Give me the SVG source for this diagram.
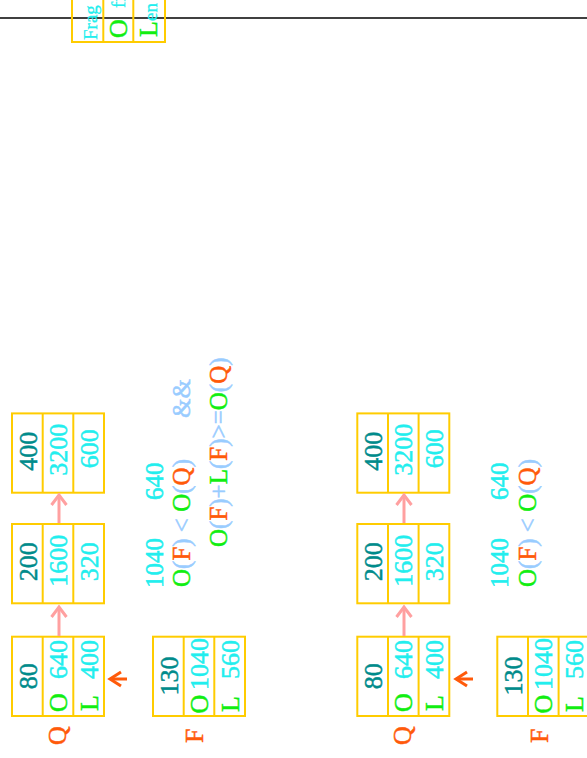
<svg xmlns="http://www.w3.org/2000/svg" width="587" height="758" viewBox="0 0 587 758">
<defs>
<style>
.cell{fill:none;stroke:#FFCC00;stroke-width:2}
.t{font-family:"Liberation Serif","Times New Roman",serif;font-size:25px;stroke-width:0.5}
.n{font-family:"Liberation Serif","Times New Roman",serif;font-size:26px;stroke-width:0.5}
.s{font-family:"Liberation Serif","Times New Roman",serif;font-size:19px;stroke-width:0.3}
.m{text-anchor:middle}
.e{text-anchor:end}
.k{fill:#008B8B;stroke:#008B8B}
.c{fill:#22EEEE;stroke:#22EEEE}
.g{fill:#11EE11;stroke:#11EE11}
.r{fill:#FF5A0A;stroke:#FF5A0A}
.b{fill:#99CCFF;stroke:#99CCFF}
.pk{stroke:#FFA0A0;stroke-width:3;fill:none}
.or{stroke:#FF5A0A;stroke-width:3;fill:none}
</style>
<g id="cellshape">
<rect x="0" y="0" width="79.3" height="92" class="cell"/>
<line x1="0" y1="30.7" x2="79.3" y2="30.7" class="cell"/>
<line x1="0" y1="61.3" x2="79.3" y2="61.3" class="cell"/>
</g>
<marker id="hp" markerUnits="userSpaceOnUse" orient="auto" refX="0" refY="0" markerWidth="20" markerHeight="20" overflow="visible">
<path d="M-10,-7.5 L0,0 L-10,7.5" fill="none" stroke="#FFA0A0" stroke-width="3"/>
</marker>
<marker id="ho" markerUnits="userSpaceOnUse" orient="auto" refX="0" refY="0" markerWidth="20" markerHeight="20" overflow="visible">
<path d="M-11,-7 L0,0 L-11,7" fill="none" stroke="#FF5A0A" stroke-width="3"/>
</marker>
</defs>
<rect width="587" height="758" fill="#fff"/>
<g transform="translate(0,758) rotate(-90)">
<!-- border line -->
<line x1="740" y1="0" x2="740" y2="587" stroke="#000" stroke-width="1.5"/>

<!-- legend (cut off) -->
<g id="legend">
<rect x="716" y="72" width="120" height="93" class="cell"/>
<line x1="716" y1="103.3" x2="836" y2="103.3" class="cell"/>
<line x1="716" y1="133.3" x2="836" y2="133.3" class="cell"/>
<text class="s c" x="718" y="97">Frag</text>
<text class="n g" x="720" y="127">O</text>
<text class="s c" x="750" y="125">ff</text>
<text class="n g" x="721" y="157">L</text>
<text class="s c" x="737" y="157">en</text>
</g>

<!-- panel 1 -->
<text id="qlabel1" class="n r" x="13" y="66">Q</text>
<text id="flabel1" class="n r" x="15" y="203">F</text>

<g id="q80a" transform="translate(42,12)">
<use href="#cellshape"/>
<text class="n m k" x="39.7" y="25">80</text>
<text class="n g" x="4" y="55">O</text><text class="n e c" x="76" y="55">640</text>
<text class="n g" x="5" y="86">L</text><text class="n e c" x="76" y="86">400</text>
</g>
<g id="q200a" transform="translate(154.7,12)">
<use href="#cellshape"/>
<text class="n m k" x="41.5" y="25">200</text>
<text class="n m c" x="42.5" y="55">1600</text>
<text class="n m c" x="41.5" y="86">320</text>
</g>
<g id="q400a" transform="translate(265.3,12)">
<use href="#cellshape"/>
<text class="n m k" x="41.5" y="25">400</text>
<text class="n m c" x="43" y="55">3200</text>
<text class="n m c" x="44" y="86">600</text>
</g>
<g id="f130a" transform="translate(42,153)">
<use href="#cellshape"/>
<text class="n m k" x="40" y="25">130</text>
<text class="n g" x="2.5" y="55">O</text><text class="n e c" x="78" y="55">1040</text>
<text class="n g" x="4" y="86">L</text><text class="n e c" x="76" y="86">560</text>
</g>

<g id="cond1">
<text class="t c" x="170" y="163">1040</text>
<text class="t c" x="258" y="163">640</text>
<text class="t" x="171" y="190"><tspan class="g">O</tspan><tspan class="b">(</tspan><tspan class="r">F</tspan><tspan class="b">) &lt; </tspan><tspan class="g">O</tspan><tspan class="b">(</tspan><tspan class="r">Q</tspan><tspan class="b">)</tspan></text>
<text class="t b" x="340" y="190">&amp;&amp;</text>
<text class="t" x="211" y="227"><tspan class="g">O</tspan><tspan class="b">(</tspan><tspan class="r">F</tspan><tspan class="b">)+</tspan><tspan class="g">L</tspan><tspan class="b">(</tspan><tspan class="r">F</tspan><tspan class="b">)&gt;=</tspan><tspan class="g">O</tspan><tspan class="b">(</tspan><tspan class="r">Q</tspan><tspan class="b">)</tspan></text>
</g>

<!-- panel 2 -->
<text id="qlabel2" class="n r" x="13" y="411">Q</text>
<text id="flabel2" class="n r" x="15" y="548">F</text>

<g id="q80b" transform="translate(42,357.3)">
<use href="#cellshape"/>
<text class="n m k" x="39.7" y="25">80</text>
<text class="n g" x="4" y="55">O</text><text class="n e c" x="76" y="55">640</text>
<text class="n g" x="5" y="86">L</text><text class="n e c" x="76" y="86">400</text>
</g>
<g id="q200b" transform="translate(154.7,357.3)">
<use href="#cellshape"/>
<text class="n m k" x="41.5" y="25">200</text>
<text class="n m c" x="42.5" y="55">1600</text>
<text class="n m c" x="41.5" y="86">320</text>
</g>
<g id="q400b" transform="translate(265.3,357.3)">
<use href="#cellshape"/>
<text class="n m k" x="41.5" y="25">400</text>
<text class="n m c" x="43" y="55">3200</text>
<text class="n m c" x="44" y="86">600</text>
</g>
<g id="f130b" transform="translate(42,497.3)">
<use href="#cellshape"/>
<text class="n m k" x="40" y="25">130</text>
<text class="n g" x="2.5" y="55">O</text><text class="n e c" x="78" y="55">1040</text>
<text class="n g" x="4" y="86">L</text><text class="n e c" x="76" y="86">560</text>
</g>

<g id="cond2">
<text class="t c" x="170" y="508">1040</text>
<text class="t c" x="258" y="508">640</text>
<text class="t" x="171" y="536"><tspan class="g">O</tspan><tspan class="b">(</tspan><tspan class="r">F</tspan><tspan class="b">) &lt; </tspan><tspan class="g">O</tspan><tspan class="b">(</tspan><tspan class="r">Q</tspan><tspan class="b">)</tspan></text>
</g>

<g id="connectors">
<path class="pk" d="M122,59 L151,59" marker-end="url(#hp)"/>
<path class="pk" d="M235,59 L263,59" marker-end="url(#hp)"/>
<path class="or" d="M79,127 L79,110" marker-end="url(#ho)"/>
<path class="pk" d="M122,404 L151,404" marker-end="url(#hp)"/>
<path class="pk" d="M235,404 L263,404" marker-end="url(#hp)"/>
<path class="or" d="M79,473 L79,456" marker-end="url(#ho)"/>
</g>
</g>
</svg>
